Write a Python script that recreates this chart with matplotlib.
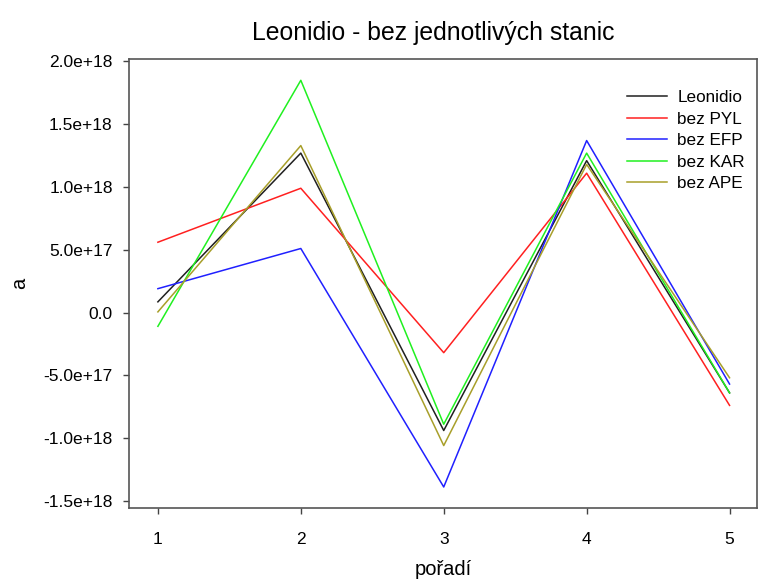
import matplotlib
matplotlib.use("Agg")
import matplotlib.pyplot as plt
from matplotlib.ticker import FuncFormatter

plt.rcParams['font.family'] = ['Liberation Sans', 'DejaVu Sans']

# poradi (x) a hodnoty a (v 1e18)
poradi = [1, 2, 3, 4, 5]
leonidio = [0.085, 1.27, -0.94, 1.21, -0.64]
bez_pyl = [0.56, 0.99, -0.32, 1.11, -0.74]
bez_efp = [0.19, 0.51, -1.39, 1.37, -0.57]
bez_kar = [-0.11, 1.85, -0.89, 1.27, -0.64]
bez_ape = [0.005, 1.33, -1.06, 1.18, -0.52]

nazvy = ['Leonidio', 'bez PYL', 'bez EFP', 'bez KAR', 'bez APE']
barvy = ['#202020', '#ff2020', '#2020ff', '#20f020', '#a89f2a']
serie = [leonidio, bez_pyl, bez_efp, bez_kar, bez_ape]


def fmt(v, pos):
    if abs(v) < 1e10:
        return '0.0'
    return '%.1e' % v


fig = plt.figure(figsize=(7.58, 5.81), dpi=100)
ax = fig.add_axes([0.1706, 0.1251, 0.8277, 0.7734])

for hodnoty, nazev, barva in zip(serie, nazvy, barvy):
    ax.plot(poradi, [h * 1e18 for h in hodnoty], color=barva, lw=1.1, label=nazev)

ax.set_xlim(0.8, 5.19)
ax.set_ylim(-1.56e18, 2.02e18)
ax.set_xticks(poradi)
ax.set_yticks([-1.5e18, -1.0e18, -5e17, 0, 5e17, 1.0e18, 1.5e18, 2.0e18])
ax.yaxis.set_major_formatter(FuncFormatter(fmt))
ax.yaxis.get_offset_text().set_visible(False)
ax.tick_params(direction='out', length=4, width=1, color='#444444',
               labelsize=12.5, pad=8)
ax.tick_params(axis='x', pad=13)
for sp in ax.spines.values():
    sp.set_color('#555555')
    sp.set_linewidth(1.2)

ax.set_title('Leonidio - bez jednotlivých stanic', fontsize=17.8, pad=14, x=0.485)
ax.set_xlabel('pořadí', fontsize=14.5, va='center')
ax.set_ylabel('a', fontsize=14.5, va='center')
ax.xaxis.set_label_coords(0.5, -0.137)
ax.yaxis.set_label_coords(-0.175, 0.5)

ax.legend(loc='upper right', bbox_to_anchor=(1.006, 0.965), frameon=False,
          fontsize=12.3, handlelength=2.35, handletextpad=0.6, labelspacing=0.38)

fig.savefig('out.png', dpi=100)
